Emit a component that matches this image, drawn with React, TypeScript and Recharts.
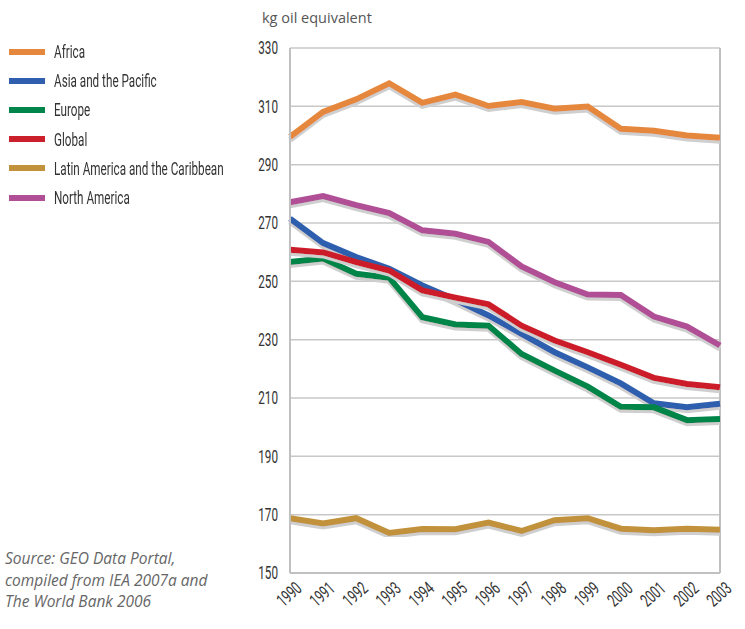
import React from 'react';
import { LineChart, Line, XAxis, YAxis, CartesianGrid, ReferenceLine } from 'recharts';

const years = ['1990', '1991', '1992', '1993', '1994', '1995', '1996', '1997', '1998', '1999', '2000', '2001', '2002', '2003'];

const africa = [299.5, 308.1, 312.4, 317.9, 311.2, 314.0, 310.1, 311.5, 309.2, 309.9, 302.3, 301.6, 300.0, 299.2];
const asiaPacific = [271.5, 263.1, 258.3, 254.3, 248.6, 243.7, 238.3, 232.0, 225.7, 220.5, 215.0, 208.2, 206.8, 208.0];
const europe = [256.6, 257.8, 252.6, 251.2, 237.7, 235.2, 234.8, 225.1, 219.4, 213.9, 207.0, 206.8, 202.4, 202.8];
const globalAvg = [260.8, 259.9, 256.6, 253.7, 246.9, 244.4, 242.1, 234.8, 229.7, 225.7, 221.4, 216.9, 214.8, 213.7];
const latinAmerica = [168.8, 167.0, 168.8, 163.7, 165.1, 165.0, 167.3, 164.4, 168.1, 168.8, 165.2, 164.7, 165.2, 164.8];
const northAmerica = [277.1, 279.2, 276.1, 273.4, 267.5, 266.3, 263.5, 255.1, 249.7, 245.5, 245.3, 237.9, 234.5, 228.0];

const yTicks = [150, 170, 190, 210, 230, 250, 270, 290, 310, 330];

const series = [
  { key: 'africa', name: 'Africa', color: '#e5883e', values: africa },
  { key: 'asia', name: 'Asia and the Pacific', color: '#2f5fae', values: asiaPacific },
  { key: 'europe', name: 'Europe', color: '#00854a', values: europe },
  { key: 'global', name: 'Global', color: '#cc1f2c', values: globalAvg },
  { key: 'latin', name: 'Latin America and the Caribbean', color: '#c1913b', values: latinAmerica },
  { key: 'north', name: 'North America', color: '#b14f96', values: northAmerica },
];

const data = years.map((year, i) => {
  const row: Record<string, string | number> = { year };
  series.forEach(s => { row[s.key] = s.values[i]; });
  return row;
});

// no condensed font installed, so squeeze Roboto horizontally
const squeeze = 0.65;
const tickFont = 'Roboto, sans-serif';

const YTick = (props: any) => {
  const { x, y, payload } = props;
  return (
    <g transform={`translate(${x},${y}) scale(${squeeze},1)`}>
      <text x={0} y={0} dy={6.3} textAnchor="end" fontFamily={tickFont} fontSize={18} fill="#333">
        {payload.value}
      </text>
    </g>
  );
};

const XTick = (props: any) => {
  const { x, y, payload } = props;
  return (
    <g transform={`translate(${x + 13},${y + 11}) rotate(-42) scale(${squeeze},1)`}>
      <text x={0} y={0} textAnchor="end" fontFamily={tickFont} fontSize={18} fill="#333">
        {payload.value}
      </text>
    </g>
  );
};

const App = () => {
  return (
    <div style={{ position: 'absolute', left: 0, top: 0, width: 745, height: 629, background: '#fff' }}>
      <div style={{ position: 'absolute', left: 262, top: 8, fontFamily: '"Open Sans", sans-serif', fontSize: 14.5, color: '#555' }}>
        kg oil equivalent
      </div>

      <div style={{ position: 'absolute', left: 9, top: 37 }}>
        {series.map(s => (
          <div key={s.key} style={{ display: 'flex', alignItems: 'center', height: 29.2 }}>
            <div style={{ width: 36, height: 6, background: s.color, marginRight: 9 }} />
            <span style={{ display: 'inline-block', whiteSpace: 'nowrap', fontFamily: tickFont, fontSize: 18, color: '#333', transform: `scaleX(${squeeze})`, transformOrigin: 'left center' }}>
              {s.name}
            </span>
          </div>
        ))}
      </div>

      <div style={{ position: 'absolute', left: 5, top: 548, fontFamily: '"Open Sans", sans-serif', fontStyle: 'italic', fontSize: 15.5, color: '#666', lineHeight: '21.5px', whiteSpace: 'nowrap' }}>
        Source: GEO Data Portal,<br />compiled from IEA 2007a and<br />The World Bank 2006
      </div>

      <LineChart width={745} height={629} data={data} margin={{ top: 48, right: 25, left: 0, bottom: 0 }}>
        <defs>
          <filter id="lineShadow" x="-5%" y="-20%" width="110%" height="140%">
            <feDropShadow dx="0" dy="3" stdDeviation="0.6" floodColor="#cfcfcf" floodOpacity="1" />
          </filter>
        </defs>
        <CartesianGrid vertical={false} stroke="#c8c8c8" strokeWidth={1.5} />
        <XAxis
          dataKey="year"
          height={56}
          interval={0}
          tickLine={false}
          axisLine={{ stroke: '#c0c0c0', strokeWidth: 2 }}
          tick={<XTick />}
          tickMargin={0}
        />
        <YAxis
          width={290}
          domain={[150, 330]}
          ticks={yTicks}
          interval={0}
          tickLine={false}
          axisLine={{ stroke: '#c0c0c0', strokeWidth: 2 }}
          tick={<YTick />}
          tickMargin={6}
        />
        <ReferenceLine x="2003" stroke="#c0c0c0" strokeWidth={2} />
        {series.map(s => (
          <Line
            key={s.key}
            dataKey={s.key}
            name={s.name}
            stroke={s.color}
            strokeWidth={6}
            dot={false}
            activeDot={false}
            type="linear"
            filter="url(#lineShadow)"
            isAnimationActive={false}
          />
        ))}
      </LineChart>
    </div>
  );
};

export default App;
